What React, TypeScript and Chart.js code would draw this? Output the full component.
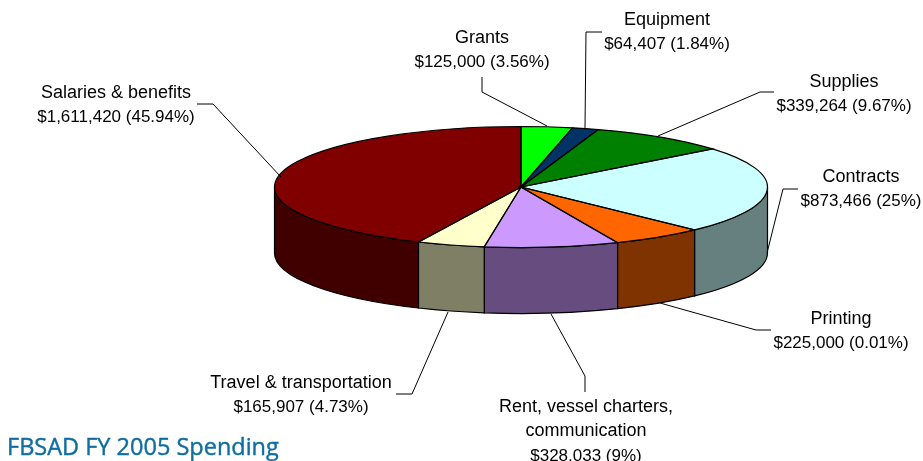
import React, { useEffect, useRef } from "react";
import { Chart, registerables } from "chart.js";

Chart.register(...registerables);

const categories = ["Grants", "Equipment", "Supplies", "Contracts", "Printing", "Rent, vessel charters, communication", "Travel & transportation", "Salaries & benefits"];
const amounts = [125000, 64407, 339264, 873466, 225000, 328033, 165907, 1611420];
const valueLabels = ["$125,000 (3.56%)", "$64,407 (1.84%)", "$339,264 (9.67%)", "$873,466 (25%)", "$225,000 (0.01%)", "$328,033 (9%)", "$165,907 (4.73%)", "$1,611,420 (45.94%)"];
const sliceColors = ["#00ff00", "#003366", "#008000", "#ccffff", "#ff6600", "#cc99ff", "#ffffcc", "#800000"];
const chartTitle = "FBSAD FY 2005 Spending";

// Label layout: title lines, centre x and centre y of the first line.
const labelLines = [
  ["Grants"],
  ["Equipment"],
  ["Supplies"],
  ["Contracts"],
  ["Printing"],
  ["Rent, vessel charters,"," communication"],
  ["Travel & transportation"],
  ["Salaries & benefits"],
];
const labelX = [482, 667, 844, 861, 841, 586, 301, 116];
const labelY = [38, 20, 82, 177, 319, 407, 383, 93];
const leaders = [
  [[482, 77], [482, 92], [547, 126]],
  [[602, 32], [586, 32], [585, 128]],
  [[774, 92], [760, 92], [658, 136]],
  [[798, 189], [783, 189], [767, 253]],
  [[771, 330], [756, 330], [660, 303]],
  [[585, 392], [585, 376], [551, 314]],
  [[396, 394], [412, 394], [448, 312]],
  [[197, 104], [213, 104], [281, 177]],
];

const RY = 60.5;
const DEPTH = 66;
const LINE_H = 24.5;

function darken(hex: string) {
  const n = parseInt(hex.slice(1), 16);
  const r = (n >> 16) & 255, g = (n >> 8) & 255, b = n & 255;
  return `rgb(${r >> 1},${g >> 1},${b >> 1})`;
}

const pie3d = {
  id: "pie3d",
  beforeDatasetsDraw(chart: any) {
    const ctx = chart.ctx;
    const arcs = chart.getDatasetMeta(0).data;
    ctx.save();
    arcs.forEach((a: any, i: number) => {
      const s = Math.max(a.startAngle, 0);
      const e = Math.min(a.endAngle, Math.PI);
      if (e <= s) return;
      ctx.beginPath();
      ctx.ellipse(a.x, a.y, a.outerRadius, RY, 0, s, e);
      ctx.ellipse(a.x, a.y + DEPTH, a.outerRadius, RY, 0, e, s, true);
      ctx.closePath();
      ctx.fillStyle = darken(sliceColors[i]);
      ctx.fill();
      ctx.lineWidth = 1.2;
      ctx.strokeStyle = "#000";
      ctx.stroke();
    });
    ctx.restore();
    const f = arcs[0];
    ctx.save();
    ctx.translate(f.x, f.y);
    ctx.scale(1, RY / f.outerRadius);
    ctx.translate(-f.x, -f.y);
  },
  afterDatasetsDraw(chart: any) {
    const ctx = chart.ctx;
    ctx.restore();
    const arcs = chart.getDatasetMeta(0).data;
    ctx.save();
    ctx.lineWidth = 1.2;
    ctx.strokeStyle = "#000";
    arcs.forEach((a: any) => {
      ctx.beginPath();
      ctx.moveTo(a.x, a.y);
      ctx.ellipse(a.x, a.y, a.outerRadius, RY, 0, a.startAngle, a.endAngle);
      ctx.closePath();
      ctx.stroke();
    });
    ctx.restore();
  },
  afterDraw(chart: any) {
    const ctx = chart.ctx;
    ctx.save();
    ctx.strokeStyle = "#000";
    ctx.lineWidth = 1;
    leaders.forEach((pts) => {
      ctx.beginPath();
      pts.forEach((p, i) => (i ? ctx.lineTo(p[0], p[1]) : ctx.moveTo(p[0], p[1])));
      ctx.stroke();
    });
    ctx.fillStyle = "#000";
    ctx.textAlign = "center";
    ctx.textBaseline = "middle";
    categories.forEach((_, i) => {
      const names = labelLines[i].map((t) => t.trim());
      ctx.font = '18px "Liberation Sans"';
      names.forEach((t, j) => ctx.fillText(t, labelX[i], labelY[i] + j * LINE_H));
      ctx.font = '17px "Liberation Sans"';
      ctx.fillText(valueLabels[i], labelX[i], labelY[i] + names.length * LINE_H);
    });
    ctx.textAlign = "left";
    ctx.fillStyle = "#0f6ea0";
    ctx.strokeStyle = "#0f6ea0";
    ctx.lineWidth = 0.4;
    ctx.font = '23.5px "Open Sans"';
    ctx.fillText(chartTitle, 7, 448);
    ctx.strokeText(chartTitle, 7, 448);
    ctx.restore();
  },
};

export default function App() {
  const ref = useRef<HTMLCanvasElement>(null);
  useEffect(() => {
    const chart = new Chart(ref.current as HTMLCanvasElement, {
      type: "pie",
      data: {
        labels: categories,
        datasets: [{ data: amounts, backgroundColor: sliceColors, borderWidth: 0, clip: false } as any],
      },
      options: {
        animation: false,
        responsive: false,
        events: [],
        radius: 246.5,
        layout: { padding: { left: 119, bottom: 87 } },
        plugins: { legend: { display: false }, tooltip: { enabled: false } },
      } as any,
      plugins: [pie3d],
    });
    return () => chart.destroy();
  }, []);
  return (
    <div style={{ position: "fixed", left: 0, top: 0, width: 923, height: 461, background: "#fff", overflow: "hidden" }}>
      <canvas ref={ref} width={923} height={461} style={{ display: "block" }} />
    </div>
  );
}
